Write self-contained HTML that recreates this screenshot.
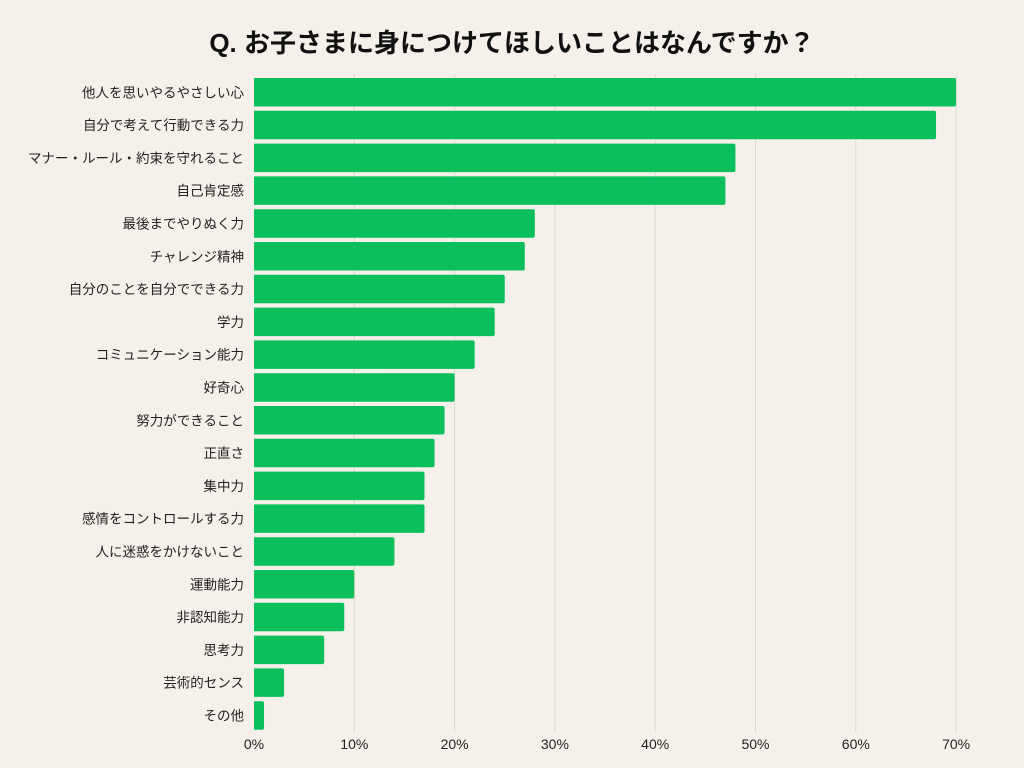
<!DOCTYPE html>
<html><head><meta charset="utf-8"><style>
html,body{margin:0;padding:0;background:#f5f1ea;}
svg{display:block;font-family:"Liberation Sans","Noto Sans CJK JP",sans-serif;}
</style></head><body>
<svg id="chart" width="1024" height="768" viewBox="0 0 1024 768">
<rect width="1024" height="768" fill="#f5f1ea"/>
<text x="512" y="52" text-anchor="middle" font-size="26" font-weight="bold" fill="#111">Q. お子さまに身につけてほしいことはなんですか？</text>
<g id="grid"></g><g id="bars"></g><g id="ylabels"></g><g id="xlabels"></g>
</svg>
<script>
const categories=["他人を思いやるやさしい心","自分で考えて行動できる力","マナー・ルール・約束を守れること","自己肯定感","最後までやりぬく力","チャレンジ精神","自分のことを自分でできる力","学力","コミュニケーション能力","好奇心","努力ができること","正直さ","集中力","感情をコントロールする力","人に迷惑をかけないこと","運動能力","非認知能力","思考力","芸術的センス","その他"];
const values=[70,68,48,47,28,27,25,24,22,20,19,18,17,17,14,10,9,7,3,1];
const ticks=[0,10,20,30,40,50,60,70];
const tickLabels=["0%","10%","20%","30%","40%","50%","60%","70%"];
const NS="http://www.w3.org/2000/svg";
const x0=254,pxPer=10.03,top0=78,pitch=32.8,bh=28.5;
const xs=v=>x0+v*pxPer;
const ys=i=>top0+i*pitch;
function mk(t,a,p){const e=document.createElementNS(NS,t);for(const k in a)e.setAttribute(k,a[k]);p.appendChild(e);return e;}
const grid=document.getElementById('grid'),bars=document.getElementById('bars'),yl=document.getElementById('ylabels'),xl=document.getElementById('xlabels');
ticks.forEach((t,i)=>{
  if(t>0){const l=mk('line',{x1:xs(t),x2:xs(t),y1:74,y2:732,stroke:'#dcd8d1','stroke-width':1},grid);
  
  }
  const tx=mk('text',{x:xs(t),y:749,'text-anchor':'middle','font-size':14,fill:'#222'},xl);
  tx.textContent=tickLabels[i];
  
  
});
categories.forEach((c,i)=>{
  const w=xs(values[i])-x0;
  const r=mk('path',{d:`M${x0},${ys(i)} h${w-2} q2,0 2,2 v${bh-4} q0,2 -2,2 h${-(w-2)} z`,fill:'#0bbf5c'},bars);
  
  
  const t=mk('text',{x:244,y:ys(i)+bh/2+5,'text-anchor':'end','font-size':13.5,fill:'#222'},yl);
  t.textContent=c;
  
  
});
</script>
</body></html>
